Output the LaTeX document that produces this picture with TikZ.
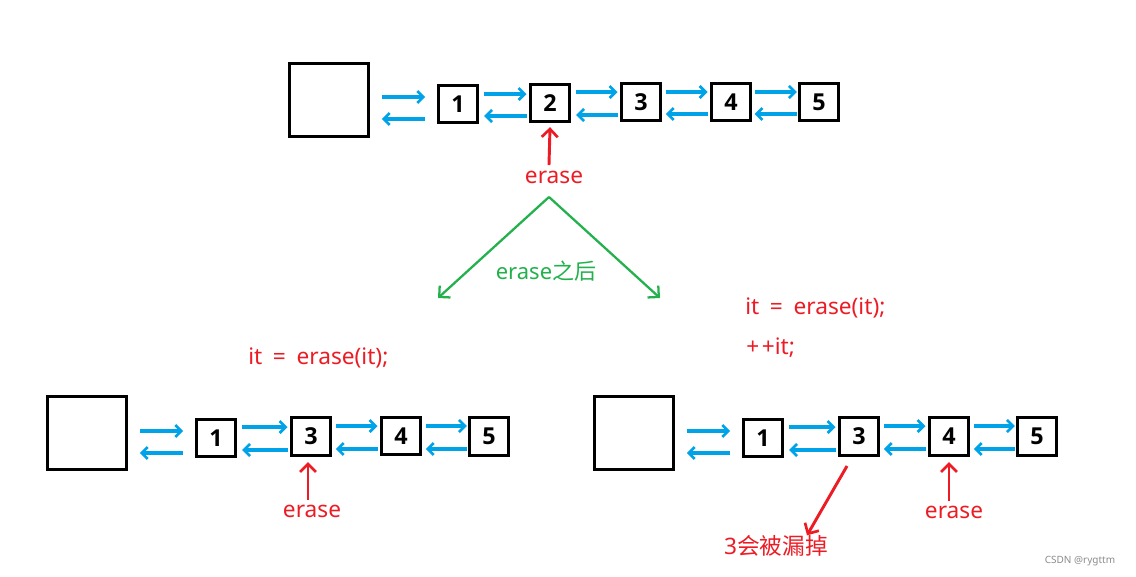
\documentclass[tikz,border=0pt]{standalone}
\usepackage{fontspec}
\setmainfont{Noto Sans}
\newfontfamily\cjk{Noto Sans CJK SC}
\newfontfamily\digfont{Open Sans}
\usetikzlibrary{arrows.meta}
\definecolor{pblue}{RGB}{0,162,232}
\definecolor{pred}{RGB}{237,28,36}
\definecolor{pgreen}{RGB}{34,177,76}
\tikzset{
  sbox/.style={draw=black, line width=2.25pt, minimum width=29pt, minimum height=28pt, inner sep=0pt, font=\digfont\fontsize{17.5}{17.5}\selectfont\bfseries},
  bigbox/.style={draw=black, line width=2.25pt, minimum width=59pt, minimum height=55pt, inner sep=0pt},
  barr/.style={draw=pblue, line width=2.3pt, -{Straight Barb[length=4.5pt,width=9pt,line width=2pt]}},
  rarr/.style={draw=pred, line width=2.2pt, -{Straight Barb[length=6pt,width=12pt,line width=2pt]}},
  garr/.style={draw=pgreen, line width=1.7pt, -{Straight Barb[length=6pt,width=12pt,line width=1.7pt]}},
  rtext/.style={text=pred, font=\fontsize{17}{17}\selectfont, inner sep=0pt},
}
\begin{document}
\begin{tikzpicture}[x=0.75pt,y=-0.75pt]
\useasboundingbox[fill=white] (0,0) rectangle (1136,576);

% ---------- top row ----------
\node[bigbox] (tB) at (329,100) {};
\node[sbox] (t1) at (458,104) {1};
\node[sbox] (t2) at (550,103) {2};
\node[sbox] (t3) at (641,102) {3};
\node[sbox] (t4) at (731,102) {4};
\node[sbox] (t5) at (819,102) {5};
\draw[barr] ([xshift=9pt]tB.east |- 0,97) -- ([xshift=-9pt]t1.west |- 0,97);
\draw[barr] ([xshift=-9pt]t1.west |- 0,119) -- ([xshift=9pt]tB.east |- 0,119);
\draw[barr] ([xshift=4pt]t1.east |- 0,94) -- ([xshift=-2pt]t2.west |- 0,94);
\draw[barr] ([xshift=-2pt]t2.west |- 0,116) -- ([xshift=4pt]t1.east |- 0,116);
\draw[barr] ([xshift=4pt]t2.east |- 0,92) -- ([xshift=-2pt]t3.west |- 0,92);
\draw[barr] ([xshift=-2pt]t3.west |- 0,115) -- ([xshift=4pt]t2.east |- 0,115);
\draw[barr] ([xshift=3pt]t3.east |- 0,92) -- ([xshift=-2pt]t4.west |- 0,92);
\draw[barr] ([xshift=-2pt]t4.west |- 0,114) -- ([xshift=3pt]t3.east |- 0,114);
\draw[barr] ([xshift=2pt]t4.east |- 0,92) -- ([xshift=-1pt]t5.west |- 0,92);
\draw[barr] ([xshift=-1pt]t5.west |- 0,114) -- ([xshift=2pt]t4.east |- 0,114);

\node[rtext] (te) at (554,177) {erase};
\draw[rarr] (549,165) -- ([yshift=-3pt]t2.south);

% ---------- green split ----------
\coordinate (apex) at (549,197);
\coordinate (gl) at (438,298);
\coordinate (gr) at (660,298);
\draw[garr] (apex) -- (gl);
\draw[garr] (apex) -- (gr);
\node[text=pgreen, font=\fontsize{16.5}{16.5}\selectfont, inner sep=0pt] (gt) at (546,271) {erase{\cjk 之后}};

% ---------- bottom left ----------
\node[rtext, anchor=west] (lc) at (248,358) {it\hspace{8pt}=\hspace{8pt}erase(it);};
\node[bigbox] (lB) at (87,433) {};
\node[sbox] (l1) at (216,438) {1};
\node[sbox] (l3) at (311,436.5) {3};
\node[sbox] (l4) at (401,436) {4};
\node[sbox] (l5) at (489,436.5) {5};
\draw[barr] ([xshift=9pt]lB.east |- 0,431) -- ([xshift=-9pt]l1.west |- 0,431);
\draw[barr] ([xshift=-9pt]l1.west |- 0,453) -- ([xshift=9pt]lB.east |- 0,453);
\draw[barr] ([xshift=4pt]l1.east |- 0,427) -- ([xshift=-2pt]l3.west |- 0,427);
\draw[barr] ([xshift=-2pt]l3.west |- 0,450) -- ([xshift=4pt]l1.east |- 0,450);
\draw[barr] ([xshift=3pt]l3.east |- 0,426) -- ([xshift=-2pt]l4.west |- 0,426);
\draw[barr] ([xshift=-2pt]l4.west |- 0,449) -- ([xshift=3pt]l3.east |- 0,449);
\draw[barr] ([xshift=3pt]l4.east |- 0,426) -- ([xshift=-1pt]l5.west |- 0,426);
\draw[barr] ([xshift=-1pt]l5.west |- 0,449) -- ([xshift=3pt]l4.east |- 0,449);
\node[rtext] (le) at (312,511) {erase};
\draw[rarr] (308,500) -- ([yshift=-4pt]l3.south -| 308,0);

% ---------- bottom right ----------
\node[rtext, anchor=west] (rc1) at (745,308) {it\hspace{8pt}=\hspace{8pt}erase(it);};
\node[rtext, anchor=west] (rc2) at (746,348) {+\hspace{2pt}+it;};
\node[bigbox] (rB) at (634,433) {};
\node[sbox] (r1) at (763,438) {1};
\node[sbox] (r3) at (859,436.5) {3};
\node[sbox] (r4) at (949,436.5) {4};
\node[sbox] (r5) at (1037,436.5) {5};
\draw[barr] ([xshift=9pt]rB.east |- 0,431) -- ([xshift=-9pt]r1.west |- 0,431);
\draw[barr] ([xshift=-9pt]r1.west |- 0,453) -- ([xshift=9pt]rB.east |- 0,453);
\draw[barr] ([xshift=4pt]r1.east |- 0,427) -- ([xshift=-2pt]r3.west |- 0,427);
\draw[barr] ([xshift=-2pt]r3.west |- 0,450) -- ([xshift=4pt]r1.east |- 0,450);
\draw[barr] ([xshift=3pt]r3.east |- 0,426) -- ([xshift=-2pt]r4.west |- 0,426);
\draw[barr] ([xshift=-2pt]r4.west |- 0,449) -- ([xshift=3pt]r3.east |- 0,449);
\draw[barr] ([xshift=3pt]r4.east |- 0,426) -- ([xshift=-1pt]r5.west |- 0,426);
\draw[barr] ([xshift=-1pt]r5.west |- 0,449) -- ([xshift=3pt]r4.east |- 0,449);
\node[rtext] (re) at (954,512) {erase};
\draw[rarr] (949,501) -- ([yshift=-4pt]r4.south);
\node[rtext] (rl) at (776,546) {3{\cjk 会被漏掉}};
\draw[rarr] (847,466) -- (rl.north -| 807,0);

\node[text=black!45, font=\fontsize{7.5}{8}\selectfont, inner sep=0pt] (wm) at (1080,561) {CSDN @rygttm};
\end{tikzpicture}
\end{document}
